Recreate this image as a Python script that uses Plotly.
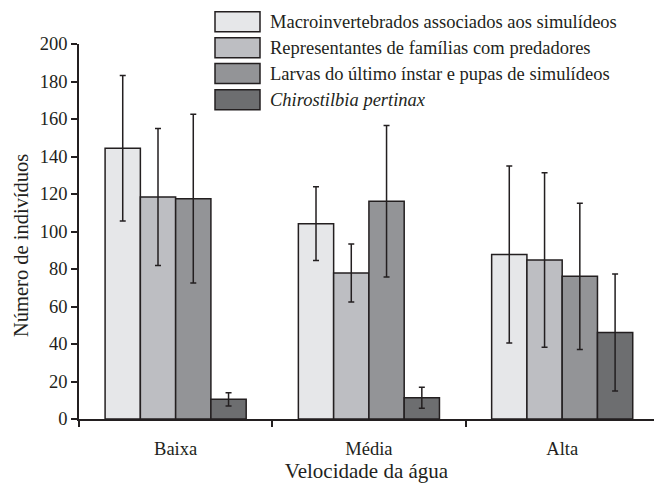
import plotly.graph_objects as go

categories = ["Baixa", "Média", "Alta"]
series_names = [
    "Macroinvertebrados associados aos simulídeos",
    "Representantes de famílias com predadores",
    "Larvas do último ínstar e pupas de simulídeos",
    "<i>Chirostilbia pertinax</i>",
]
y_title = "Número de indivíduos"
x_title = "Velocidade da água"
macro = [144.4, 104.2, 87.8]
macro_err = [38.8, 19.6, 47.2]
pred = [118.4, 77.9, 84.8]
pred_err = [36.6, 15.5, 46.5]
larvas = [117.5, 116.1, 76.1]
larvas_err = [45.0, 40.4, 39.0]
chiro = [10.5, 11.4, 46.2]
chiro_err = [3.5, 5.6, 31.2]

colors = ["#e6e7e9", "#bdbec2", "#939497", "#6d6e70"]
ink = "#231f20"
FONT = "Liberation Serif"

W, H = 654, 483
L, R, T, B = 79, 0, 44, 64
pw, ph = W - L - R, H - T - B

fig = go.Figure()
for name, vals, errs, col in zip(series_names, [macro, pred, larvas, chiro],
                                 [macro_err, pred_err, larvas_err, chiro_err], colors):
    fig.add_trace(go.Bar(
        x=categories, y=vals, name=name, showlegend=False,
        marker=dict(color=col, line=dict(color=ink, width=1.5)),
        error_y=dict(type="data", array=errs, visible=True, color=ink,
                     thickness=1.5, width=3),
    ))

def px2paper(x, y):
    return (x - L) / pw, (H - B - y) / ph

# custom legend (large swatches)
row_centers = [21.7, 47.7, 73.5, 99.7]
for name, col, yc in zip(series_names, colors, row_centers):
    x0, y0 = px2paper(215, yc - 10)
    x1, y1 = px2paper(260, yc + 10)
    fig.add_shape(type="rect", xref="paper", yref="paper", x0=x0, x1=x1, y0=y1, y1=y0,
                  fillcolor=col, line=dict(color=ink, width=1.5))
    tx, ty = px2paper(268, yc)
    fig.add_annotation(xref="paper", yref="paper", x=tx, y=ty, text=name,
                       showarrow=False, xanchor="left", yanchor="middle",
                       font=dict(family=FONT, size=18.5, color=ink))

# y-axis title
ax_, ay_ = px2paper(21, 246)
fig.add_annotation(xref="paper", yref="paper", x=ax_, y=ay_, text=y_title,
                   textangle=-90, showarrow=False, xanchor="center", yanchor="middle",
                   font=dict(family=FONT, size=20.5, color=ink))

fig.update_layout(
    width=W, height=H,
    margin=dict(l=L, r=R, t=T, b=B, pad=0, autoexpand=False),
    paper_bgcolor="white", plot_bgcolor="white",
    barmode="group", bargap=0.27, bargroupgap=0,
    font=dict(family=FONT, size=18.5, color=ink),
    xaxis=dict(
        range=[-0.5, 2.475], tickson="boundaries", ticks="outside", ticklen=6,
        tickwidth=1.5, tickcolor=ink, showline=True, linecolor=ink, linewidth=1.5,
        showgrid=False, zeroline=False, automargin=False, ticklabelstandoff=12,
        title=dict(text=x_title, font=dict(size=21), standoff=4),
        tickfont=dict(size=18.5),
    ),
    yaxis=dict(
        range=[0, 200], dtick=20, ticks="outside", ticklen=6, tickwidth=1.5,
        tickcolor=ink, showline=True, linecolor=ink, linewidth=1.5,
        showgrid=False, zeroline=False, automargin=False,
        tickfont=dict(size=18.5),
    ),
)

fig.write_html("out.html", config={"displayModeBar": False},
               post_script="document.body.style.margin='0';")
